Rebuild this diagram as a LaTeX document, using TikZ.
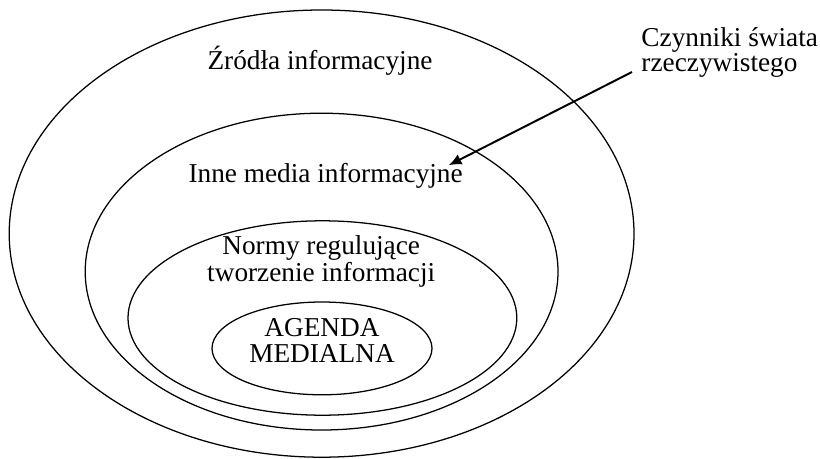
\documentclass[tikz,border=0pt]{standalone}
\usepackage{fontspec}
\setmainfont{Liberation Serif}
\usetikzlibrary{arrows.meta}
\begin{document}
\begin{tikzpicture}[ring/.style={line width=0.9pt},
        lbl/.style={inner sep=0pt,font=\fontsize{19.4}{17.8}\selectfont}]
        \useasboundingbox (0,0) rectangle (20.5,11.45);
        \draw[ring] (8.04,5.61) ellipse [x radius=7.81, y radius=5.59];
        \draw[ring] (8.04,4.66) ellipse [x radius=5.91, y radius=3.96];
        \draw[ring] (8.06,3.50) ellipse [x radius=4.86, y radius=2.43];
        \draw[ring] (8.05,2.74) ellipse [x radius=2.75, y radius=1.16];
        \node[lbl,anchor=base] (zrodla) at (8.0,9.7) {Źródła informacyjne};
        \node[lbl,anchor=base] (inne) at (8.14,6.9) {Inne media informacyjne};
        \node[lbl,anchor=base,align=center] (normy) at (8.03,4.42) {Normy regulujące\\tworzenie informacji};
        \node[lbl,anchor=base,align=center] (agenda) at (8.05,2.4) {AGENDA\\MEDIALNA};
        \node[lbl,anchor=base west,align=left] (czynniki) at (16.03,9.65) {Czynniki świata\\rzeczywistego};
        \coordinate (from) at (15.8,9.65);
        \coordinate (to) at (11.22,7.32);
        \draw[line width=1.4pt,-{Latex[length=9pt,width=8pt]}] (from) -- (to);
\end{tikzpicture}
\end{document}
